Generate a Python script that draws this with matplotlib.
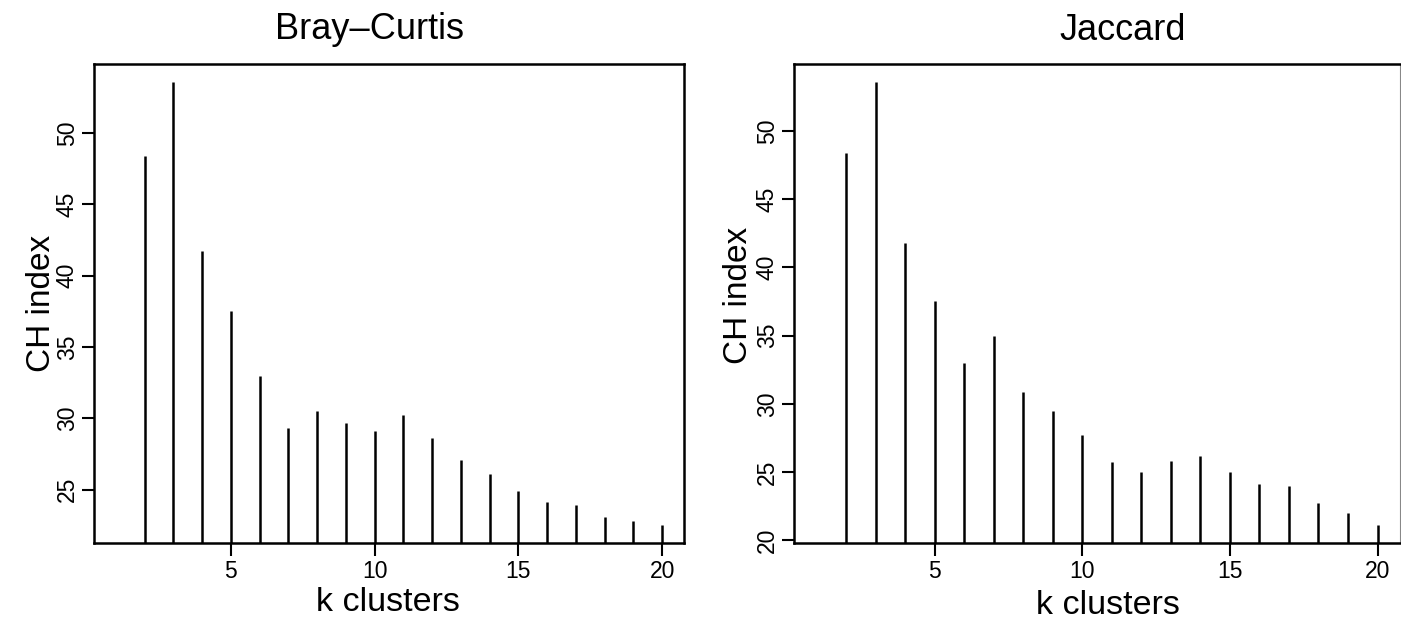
import matplotlib
matplotlib.use("Agg")
import matplotlib.pyplot as plt

plt.rcParams['font.family'] = ['Liberation Sans', 'DejaVu Sans']

# data
k = [2, 3, 4, 5, 6, 7, 8, 9, 10, 11, 12, 13, 14, 15, 16, 17, 18, 19, 20]
bray = [48.4, 53.6, 41.7, 37.5, 33.0, 29.3, 30.5, 29.7, 29.1, 30.2,
        28.6, 27.1, 26.1, 24.9, 24.1, 23.9, 23.1, 22.8, 22.5]
jacc = [48.4, 53.6, 41.8, 37.5, 33.0, 35.0, 30.9, 29.5, 27.7, 25.7,
        25.0, 25.8, 26.2, 25.0, 24.1, 24.0, 22.7, 22.0, 21.1]
titles = ["Bray\u2013Curtis", "Jaccard"]
xticks = [5, 10, 15, 20]
yticks_bray = [25, 30, 35, 40, 45, 50]
yticks_jacc = [20, 25, 30, 35, 40, 45, 50]

W, H = 1401, 628
fig = plt.figure(figsize=(W / 100, H / 100), dpi=100)


def px_axes(x0, y0, x1, y1):
    return fig.add_axes([x0 / W, 1 - y1 / H, (x1 - x0) / W, (y1 - y0) / H])


def ftext(x, y, s, **kw):
    fig.text(x / W, 1 - y / H, s, **kw)


def draw_panel(ax, vals, yticks):
    # R style type="h": stems from zero, clipped by the box
    ax.vlines(k, 0, vals, color="black", lw=1.8)
    lo, hi = min(vals), max(vals)
    r = hi - lo
    ax.set_ylim(lo - 0.04 * r, hi + 0.04 * r)
    ax.set_xlim(1 - 0.04 * 19, 20 + 0.04 * 19)
    ax.set_xticks(xticks)
    ax.set_yticks(yticks)
    ax.set_yticklabels([str(v) for v in yticks], rotation=90, va="center")
    ax.tick_params(length=9, width=1.5, labelsize=16.5, colors="black")
    ax.tick_params(axis="x", pad=3)
    ax.tick_params(axis="y", pad=2)
    for sp in ax.spines.values():
        sp.set_linewidth(1.8)


ax1 = px_axes(94, 64, 684, 543)
draw_panel(ax1, bray, yticks_bray)
ax2 = px_axes(794, 64, 1400, 543)
draw_panel(ax2, jacc, yticks_jacc)
ax2.spines["right"].set_linewidth(0.8)
ax2.spines["right"].set_color("#888888")

ftext(370, 39, titles[0], fontsize=26, ha="center", va="baseline")
ftext(1123, 40, titles[1], fontsize=26, ha="center", va="baseline")

ftext(388, 611, "k clusters", fontsize=24.5, ha="center", va="baseline")
ftext(1108, 614, "k clusters", fontsize=24.5, ha="center", va="baseline")

ftext(50, 303, "CH index", fontsize=24, ha="center", va="baseline",
      rotation=90, rotation_mode="anchor")
ftext(747, 295, "CH index", fontsize=24, ha="center", va="baseline",
      rotation=90, rotation_mode="anchor")

fig.savefig("out.png", dpi=100, facecolor="white")
